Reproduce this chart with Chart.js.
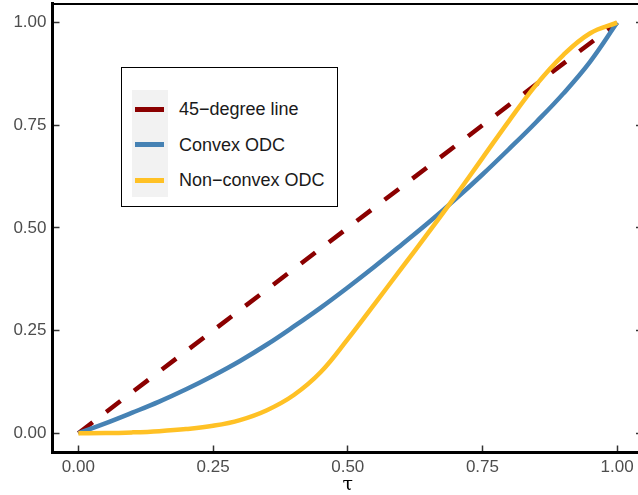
<!DOCTYPE html>
<html>
<head>
<meta charset="utf-8">
<script src="https://cdn.jsdelivr.net/npm/chart.js@4/dist/chart.umd.min.js"></script>
<style>
  html, body { margin: 0; padding: 0; background: #fff; overflow: hidden; }
  #wrap { position: relative; width: 650px; height: 495px; }
  #odcChart { position: absolute; left: 0; top: 0; }
  #legendBox {
    position: absolute; left: 121px; top: 67px; width: 217px; height: 140px;
    border: 1px solid #000; box-sizing: border-box; background: #fff;
  }
  #legendKeys { position: absolute; left: 10px; top: 22px; width: 36px; height: 107px; background: #f2f2f2; }
  .swatch { position: absolute; left: 13px; width: 29px; height: 5px; }
  .ltext {
    position: absolute; left: 57px; font: 18px "Liberation Sans", Arial, sans-serif; color: #1a1a1a;
    white-space: nowrap; line-height: 20px;
  }
</style>
</head>
<body>
<div id="wrap">
  <canvas id="odcChart" width="650" height="495"></canvas>
  <div id="legendBox"><div id="legendKeys"></div></div>
</div>
<script>
// data
const tau = [0, 0.05, 0.1, 0.15, 0.2, 0.25, 0.3, 0.35, 0.4, 0.45, 0.5,
             0.55, 0.6, 0.65, 0.7, 0.75, 0.8, 0.85, 0.9, 0.95, 1];
const convexOdc = [0, 0.024, 0.050, 0.077, 0.107, 0.140, 0.176, 0.216, 0.260, 0.306, 0.355,
                   0.406, 0.459, 0.513, 0.570, 0.630, 0.693, 0.758, 0.827, 0.905, 1];
const nonConvexOdc = [0, 0.0003, 0.002, 0.005, 0.010, 0.018, 0.032, 0.056, 0.093, 0.149, 0.229,
                      0.315, 0.402, 0.489, 0.578, 0.670, 0.762, 0.849, 0.921, 0.974, 1];
const diagX = [0, 1];
const diagY = [0, 1];

const seriesLabels = ['45\u2212degree line', 'Convex ODC', 'Non\u2212convex ODC'];
const seriesColors = ['#8b0000', '#4682b4', '#ffc125'];

const tickValues = [0, 0.25, 0.5, 0.75, 1];
const tickLabels = ['0.00', '0.25', '0.50', '0.75', '1.00'];

const pts = (xs, ys) => xs.map((x, i) => ({ x: x, y: ys[i] }));

const tickFont = { family: '"Liberation Sans", Arial, sans-serif', size: 17 };
const setTicks = s => { s.ticks = tickValues.map(v => ({ value: v })); };
// no extra room for labels sticking out past the ends
const noPad = s => { s.paddingTop = 0; s.paddingBottom = 0; s.paddingLeft = 0; s.paddingRight = 0; };

new Chart(document.getElementById('odcChart'), {
    type: 'line',
    data: {
        datasets: [
            {
                label: seriesLabels[2], data: pts(tau, nonConvexOdc),
                borderColor: seriesColors[2], borderWidth: 4.5, order: 1, tension: 0.4
            },
            {
                label: seriesLabels[1], data: pts(tau, convexOdc),
                borderColor: seriesColors[1], borderWidth: 4.5, order: 2, tension: 0.4
            },
            {
                label: seriesLabels[0], data: pts(diagX, diagY),
                borderColor: seriesColors[0], borderWidth: 4.5, order: 3,
                borderDash: [18, 17], borderCapStyle: 'butt'
            }
        ]
    },
    options: {
        responsive: false,
        animation: false,
        elements: { point: { radius: 0 } },
        plugins: { legend: { display: false }, tooltip: { enabled: false } },
        layout: { padding: 0 },
        scales: {
            x: {
                type: 'linear', position: 'bottom', min: -0.048, max: 1.048,
                afterBuildTicks: setTicks,
                afterFit: s => { s.height = 42.5; noPad(s); },
                grid: { drawOnChartArea: false, tickLength: -7, tickColor: '#333', tickWidth: 1.5 },
                border: { color: '#000', width: 3 },
                ticks: { color: '#4d4d4d', font: tickFont, padding: 12, maxRotation: 0,
                         callback: (v, i) => tickLabels[i] },
                title: { display: true, text: '\u03c4', color: '#000',
                         font: { family: '"DejaVu Serif", serif', size: 19, lineHeight: 1 }, padding: 0 }
            },
            xTop: {
                type: 'linear', position: 'top', min: -0.048, max: 1.048,
                afterFit: s => { s.height = 3.7; noPad(s); },
                grid: { drawOnChartArea: false, drawTicks: false },
                border: { color: '#000', width: 2 },
                ticks: { display: false }
            },
            y: {
                type: 'linear', position: 'left', min: -0.047, max: 1.046,
                afterBuildTicks: setTicks,
                afterFit: s => { s.width = 52.5; noPad(s); },
                grid: { drawOnChartArea: false, tickLength: -7, tickColor: '#333', tickWidth: 1.5 },
                border: { color: '#000', width: 3 },
                ticks: { color: '#4d4d4d', font: tickFont, padding: 13,
                         callback: (v, i) => tickLabels[i] }
            },
            y2: {
                type: 'linear', position: 'right', min: -0.047, max: 1.046,
                afterBuildTicks: setTicks,
                afterFit: s => { s.width = 7; noPad(s); },
                grid: { drawOnChartArea: false, tickLength: -7, tickColor: '#333', tickWidth: 1.5 },
                border: { display: false },
                ticks: { display: false }
            }
        }
    }
});

// legend drawn as html on top of the plot
const box = document.getElementById('legendBox');
const rowY = [41.3, 76.7, 112];
seriesLabels.forEach((lab, i) => {
    const sw = document.createElement('div');
    sw.className = 'swatch';
    sw.style.top = (rowY[i] - 2.5) + 'px';
    sw.style.background = seriesColors[i];
    box.appendChild(sw);
    const t = document.createElement('div');
    t.className = 'ltext';
    t.style.top = (rowY[i] - 10) + 'px';
    t.textContent = lab;
    box.appendChild(t);
});
</script>
</body>
</html>
